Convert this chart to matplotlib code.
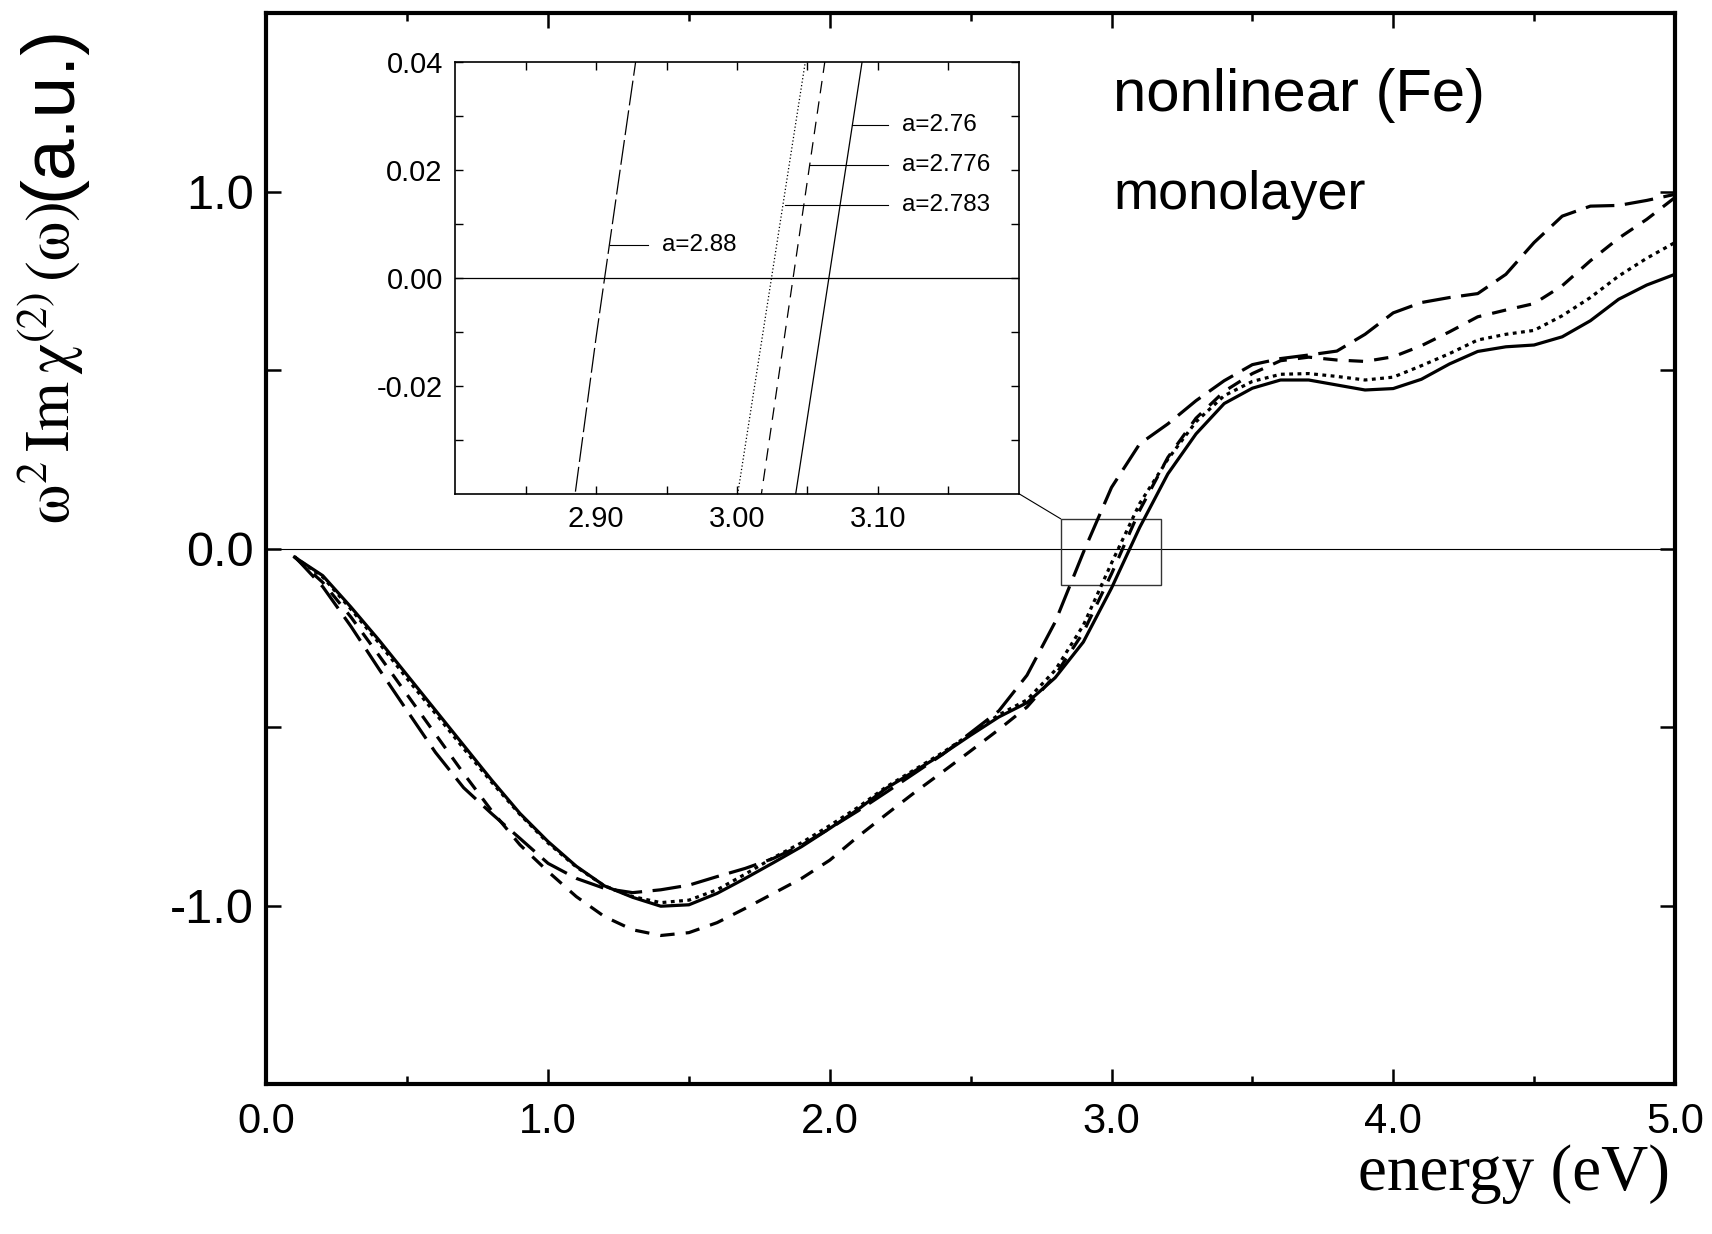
import matplotlib
matplotlib.use('Agg')
import matplotlib.pyplot as plt
from matplotlib.patches import Rectangle, ConnectionPatch
from matplotlib.ticker import FixedLocator
from matplotlib import font_manager

# ---------------- data ----------------
energy = [0.1, 0.2, 0.3, 0.4, 0.5, 0.6, 0.7, 0.8, 0.9, 1.0,
          1.1, 1.2, 1.3, 1.4, 1.5, 1.6, 1.7, 1.8, 1.9, 2.0,
          2.1, 2.2, 2.3, 2.4, 2.5, 2.6, 2.7, 2.8, 2.9, 3.0,
          3.1, 3.2, 3.3, 3.4, 3.5, 3.6, 3.7, 3.8, 3.9, 4.0,
          4.1, 4.2, 4.3, 4.4, 4.5, 4.6, 4.7, 4.8, 4.9, 5.0]

a_2760 = [-0.024, -0.076, -0.164, -0.257, -0.355, -0.453, -0.551, -0.649, -0.742, -0.821,
          -0.890, -0.945, -0.977, -1.002, -0.998, -0.966, -0.924, -0.880, -0.835, -0.784,
          -0.731, -0.672, -0.624, -0.576, -0.523, -0.472, -0.432, -0.362, -0.262, -0.111,
          0.059, 0.209, 0.321, 0.406, 0.449, 0.472, 0.472, 0.458, 0.444, 0.448,
          0.474, 0.517, 0.552, 0.565, 0.570, 0.593, 0.638, 0.698, 0.738, 0.768]

a_2776 = [-0.024, -0.095, -0.192, -0.300, -0.410, -0.520, -0.630, -0.735, -0.830, -0.905,
          -0.975, -1.031, -1.068, -1.084, -1.076, -1.048, -1.008, -0.966, -0.924, -0.873,
          -0.807, -0.745, -0.684, -0.626, -0.567, -0.507, -0.444, -0.355, -0.235, -0.071,
          0.107, 0.255, 0.365, 0.440, 0.490, 0.526, 0.536, 0.528, 0.524, 0.537,
          0.568, 0.607, 0.649, 0.668, 0.686, 0.736, 0.806, 0.869, 0.922, 0.983]

a_2783 = [-0.024, -0.080, -0.170, -0.265, -0.365, -0.462, -0.560, -0.655, -0.745, -0.825,
          -0.892, -0.945, -0.975, -0.992, -0.985, -0.956, -0.912, -0.866, -0.824, -0.776,
          -0.725, -0.668, -0.620, -0.572, -0.519, -0.466, -0.424, -0.341, -0.215, -0.041,
          0.126, 0.250, 0.355, 0.428, 0.468, 0.488, 0.490, 0.482, 0.472, 0.480,
          0.512, 0.546, 0.584, 0.600, 0.611, 0.652, 0.703, 0.763, 0.813, 0.857]

a_2880 = [-0.022, -0.107, -0.218, -0.338, -0.455, -0.571, -0.670, -0.743, -0.812, -0.882,
          -0.924, -0.952, -0.964, -0.956, -0.943, -0.919, -0.896, -0.868, -0.831, -0.784,
          -0.735, -0.683, -0.630, -0.577, -0.516, -0.455, -0.355, -0.206, -0.011, 0.171,
          0.293, 0.349, 0.414, 0.470, 0.515, 0.532, 0.542, 0.553, 0.600, 0.660,
          0.689, 0.703, 0.714, 0.768, 0.857, 0.931, 0.959, 0.961, 0.975, 0.992]

series_labels = ['a=2.76', 'a=2.776', 'a=2.783', 'a=2.88']
series_values = [a_2760, a_2776, a_2783, a_2880]

main_xticklabels = ['0.0', '1.0', '2.0', '3.0', '4.0', '5.0']
main_yticklabels = ['-1.0', '', '0.0', '', '1.0']
inset_xticklabels = ['', '2.90', '', '3.00', '', '3.10', '']
inset_yticklabels = ['', '-0.02', '', '0.00', '', '0.02', '', '0.04']

# ---------------- style ----------------
plt.rcParams['font.family'] = ['Liberation Sans', 'DejaVu Sans']
plt.rcParams['mathtext.fontset'] = 'stix'

installed = {f.name for f in font_manager.fontManager.ttflist}
narrow = 'Liberation Sans Narrow' if 'Liberation Sans Narrow' in installed else 'Liberation Sans'
xtick_size = 32 if narrow == 'Liberation Sans Narrow' else 30

main_ls = {'a=2.76': '-', 'a=2.776': (0, (4.5, 3.5)),
           'a=2.783': (0, (1.2, 1.4)), 'a=2.88': (0, (9, 3.3))}
inset_ls = {'a=2.76': '-', 'a=2.776': (0, (10, 6.5)),
            'a=2.783': (0, (1, 1.8)), 'a=2.88': (0, (20, 4))}
# label anchor positions in inset (curve point x, line end x, text x, y)
inset_notes = {'a=2.76': (3.082, 3.107, 3.117, 0.0283),
               'a=2.776': (3.052, 3.107, 3.117, 0.0210),
               'a=2.783': (3.034, 3.107, 3.117, 0.0135),
               'a=2.88': (2.910, 2.937, 2.947, 0.0061)}

W, H = 1712, 1234
fig = plt.figure(figsize=(W / 100, H / 100), dpi=100)

# ---------------- main axes ----------------
ax = fig.add_axes([266.4 / W, 150 / H, 1408.5 / W, 1071 / H])
for lab, ys in zip(series_labels, series_values):
    ax.plot(energy, ys, color='black', lw=2.3, ls=main_ls[lab],
            dash_capstyle='butt', solid_joinstyle='round')
ax.axhline(0, color='black', lw=0.8, zorder=1)
ax.set_xlim(0, 5)
ax.set_ylim(-1.5, 1.5)
ax.set_xticks([0, 1, 2, 3, 4, 5])
ax.set_xticklabels(main_xticklabels, family=[narrow, 'DejaVu Sans'])
ax.xaxis.set_minor_locator(FixedLocator([0.5, 1.5, 2.5, 3.5, 4.5]))
ax.set_yticks([-1.0, -0.5, 0.0, 0.5, 1.0])
ax.set_yticklabels(main_yticklabels)
ax.tick_params(which='both', direction='in', top=True, right=True, width=1.8)
ax.tick_params(axis='x', which='major', length=11, pad=13, labelsize=xtick_size)
ax.tick_params(axis='x', which='minor', length=6)
ax.tick_params(axis='y', which='major', length=11, pad=9, labelsize=35)
for s in ax.spines.values():
    s.set_linewidth(3)

ax.text(3.007, 1.226, 'nonlinear (Fe)', fontsize=43, va='baseline', ha='left')
ax.text(3.007, 0.952, 'monolayer', fontsize=39, va='baseline', ha='left')

rect = Rectangle((2.82, -0.103), 0.355, 0.186, fill=False, ec='#333333', lw=1.0)
ax.add_patch(rect)

fig.text(1670 / W, (H - 1190) / H, 'energy (eV)', family=['Liberation Serif', 'DejaVu Serif'],
         fontsize=47, ha='right', va='baseline')

# y label (serif part + sans part), sharing one baseline
x_base = 70 / W
t1 = fig.text(x_base, (H - 524) / H,
              r'$\mathrm{\omega^2\,Im\,\chi^{(2)}\,(\omega)}$',
              rotation=90, rotation_mode='anchor', fontsize=45,
              ha='left', va='baseline')
fig.canvas.draw()
bb = t1.get_window_extent(fig.canvas.get_renderer())
fig.text(x_base, (bb.y1 + 2) / H, '(a.u.)', rotation=90, rotation_mode='anchor',
         fontsize=54, ha='left', va='baseline')

# ---------------- inset ----------------
axi = fig.add_axes([455.3 / W, (H - 493.5) / H, 563.3 / W, 431.3 / H])
for lab, ys in zip(series_labels, series_values):
    axi.plot(energy, ys, color='black', lw=0.9, ls=inset_ls[lab], dash_capstyle='butt')
axi.axhline(0, color='black', lw=0.9)
axi.set_xlim(2.8, 3.2)
axi.set_ylim(-0.04, 0.04)
axi.set_xticks([2.85, 2.90, 2.95, 3.00, 3.05, 3.10, 3.15])
axi.set_xticklabels(inset_xticklabels)
axi.set_yticks([-0.03, -0.02, -0.01, 0.0, 0.01, 0.02, 0.03, 0.04])
axi.set_yticklabels(inset_yticklabels)
axi.tick_params(which='both', direction='in', top=True, right=True, width=1.0, length=6)
axi.tick_params(axis='x', pad=8, labelsize=21)
axi.tick_params(axis='y', pad=9, labelsize=21)
for s in axi.spines.values():
    s.set_linewidth(1.2)
for lab in series_labels:
    x0, x1, xt, y = inset_notes[lab]
    axi.plot([x0, x1], [y, y], color='black', lw=0.8)
    axi.text(xt, y, lab, fontsize=17.5, ha='left', va='center')

con = ConnectionPatch(xyA=(1, 0), coordsA=axi.transAxes, xyB=(2.82, 0.083),
                      coordsB=ax.transData, color='black', lw=0.8)
fig.add_artist(con)

fig.savefig('out.png', dpi=100)
